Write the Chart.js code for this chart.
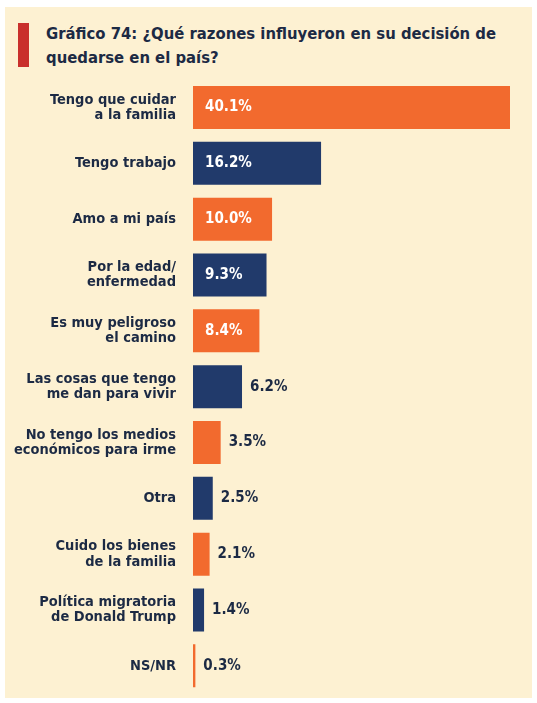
<!DOCTYPE html>
<html><head><meta charset="utf-8">
<script src="https://cdn.jsdelivr.net/npm/chart.js@4"></script>
<style>
body{margin:0;background:#fff;width:537px;height:703px;position:relative;overflow:hidden}
#bg{position:absolute;left:5px;top:7px;width:527px;height:691px;background:#fdf1d2}
#red{position:absolute;left:18px;top:23px;width:11px;height:44px;background:#c9302c}
#title{position:absolute;left:46px;top:22px;width:470px;font:bold 16.5px 'DejaVu Sans Condensed',sans-serif;color:#1c2a44;line-height:24px}
#wrap{position:absolute;left:5px;top:63px;width:527px;height:655px}
</style></head><body>
<div id="bg"></div><div id="red"></div>
<div id="title">Gráfico 74: ¿Qué razones influyeron en su decisión de quedarse en el país?</div>
<div id="wrap"><canvas id="c"></canvas></div>
<script>
const categories=[["Tengo que cuidar","a la familia"],"Tengo trabajo","Amo a mi país",["Por la edad/","enfermedad"],["Es muy peligroso","el camino"],["Las cosas que tengo","me dan para vivir"],["No tengo los medios","económicos para irme"],"Otra",["Cuido los bienes","de la familia"],["Política migratoria","de Donald Trump"],"NS/NR"];
const values=[40.1,16.2,10.0,9.3,8.4,6.2,3.5,2.5,2.1,1.4,0.3];
const colors=values.map((v,i)=>i%2===0?'#f26a2e':'#213a6b');
const FONT="'DejaVu Sans Condensed',sans-serif";
const labelPlugin={id:'lbl',afterDatasetsDraw(ch){const ctx=ch.ctx;const meta=ch.getDatasetMeta(0);ctx.save();ctx.font='bold 15px '+FONT;ctx.textBaseline='middle';
meta.data.forEach((b,i)=>{const v=values[i];const t=v.toFixed(1)+'%';if(v>=8){ctx.fillStyle='#fff';ctx.textAlign='left';ctx.fillText(t,b.base+12,b.y);}else{ctx.fillStyle='#1c2a44';ctx.textAlign='left';ctx.fillText(t,b.x+8,b.y);}});ctx.restore();}};
new Chart(document.getElementById('c'),{type:'bar',data:{labels:categories,datasets:[{data:values,backgroundColor:colors,barPercentage:0.77,categoryPercentage:1}]},
options:{indexAxis:'y',responsive:true,maintainAspectRatio:false,animation:false,layout:{padding:{right:22,left:0}},
plugins:{legend:{display:false},tooltip:{enabled:false}},
scales:{x:{display:false,min:0,max:40.1},y:{grid:{display:false},border:{display:false},ticks:{color:'#1c2a44',font:{family:FONT,size:14.5,weight:'bold',lineHeight:1.05},padding:9,crossAlign:'near'},afterFit(s){s.width=188;}}}},
plugins:[labelPlugin]});
</script></body></html>
